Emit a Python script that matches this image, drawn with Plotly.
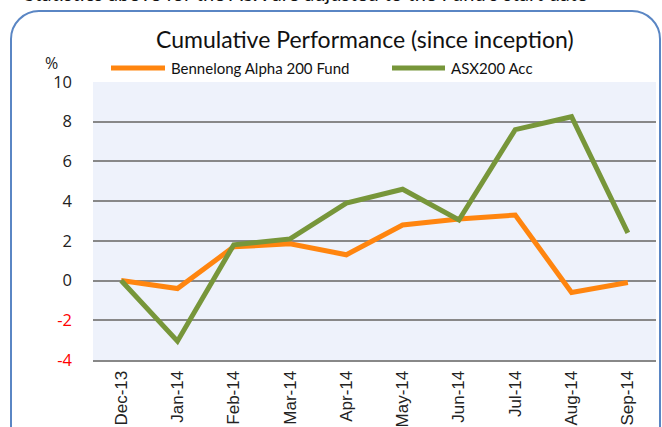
import plotly.graph_objects as go

months = ["Dec-13", "Jan-14", "Feb-14", "Mar-14", "Apr-14", "May-14",
          "Jun-14", "Jul-14", "Aug-14", "Sep-14"]
fund = [0.0, -0.4, 1.7, 1.85, 1.3, 2.8, 3.1, 3.3, -0.6, -0.1]
asx = [0.0, -3.05, 1.8, 2.1, 3.9, 4.6, 3.05, 7.6, 8.25, 2.4]
ytick_vals = [-4, -2, 0, 2, 4, 6, 8, 10]

W, H = 662, 427
L, R, T, B = 93, 6, 82, 67
PW, PH = W - L - R, H - T - B


def px(x):
    return (x - L) / PW


def py(y):
    return (H - B - y) / PH


TXT = "Lato"

fig = go.Figure()
fig.add_trace(go.Scatter(x=months, y=fund, mode="lines", name="Bennelong Alpha 200 Fund",
                         line=dict(color="#ff850f", width=5)))
fig.add_trace(go.Scatter(x=months, y=asx, mode="lines", name="ASX200 Acc",
                         line=dict(color="#77963a", width=5)))

ticktext = [f'<span style="color:#ff0000">{v}</span>' if v < 0 else str(v) for v in ytick_vals]

# rounded border path
x0, y0, x1, y1, r = 11, 11, 660, 440, 28
path = (f"M {px(x0)} {py(y1)} L {px(x0)} {py(y0 + r)} "
        f"C {px(x0)} {py(y0 + r * 0.45)} {px(x0 + r * 0.45)} {py(y0)} {px(x0 + r)} {py(y0)} "
        f"L {px(x1 - r)} {py(y0)} "
        f"C {px(x1 - r * 0.45)} {py(y0)} {px(x1)} {py(y0 + r * 0.45)} {px(x1)} {py(y0 + r)} "
        f"L {px(x1)} {py(y1)}")

fig.update_layout(
    width=W, height=H,
    margin=dict(l=L, r=R, t=T, b=B),
    paper_bgcolor="white",
    plot_bgcolor="#eef2fb",
    showlegend=False,
    font=dict(family="Open Sans", color="#222222"),
    xaxis=dict(type="category", tickangle=-90, showgrid=False, range=[-0.5, 9.5],
               showline=True, linecolor="#888888", linewidth=2, automargin=False,
               ticks="", ticklabelstandoff=2,
               tickfont=dict(size=17, family="Liberation Sans", color="#222222"),
               fixedrange=True),
    yaxis=dict(range=[-4, 10], tickvals=ytick_vals, ticktext=ticktext, automargin=False,
               showgrid=True, gridcolor="#888888", gridwidth=2,
               zeroline=False, ticks="", ticklabelstandoff=20,
               tickfont=dict(size=16.5, family="Open Sans", color="#222222"),
               fixedrange=True),
    shapes=[
        dict(type="path", xref="paper", yref="paper", path=path,
             line=dict(color="#5a86c4", width=2), layer="above"),
        dict(type="line", xref="paper", yref="paper", x0=px(111), x1=px(165),
             y0=py(68), y1=py(68), line=dict(color="#ff850f", width=5)),
        dict(type="line", xref="paper", yref="paper", x0=px(392), x1=px(445),
             y0=py(68), y1=py(68), line=dict(color="#77963a", width=5)),
    ],
    annotations=[
        dict(text="Statistics above for the ASX are adjusted to the Fund's start date",
             xref="paper", yref="paper", x=px(22), y=py(7), xanchor="left", yanchor="bottom",
             showarrow=False, font=dict(size=20, family=TXT, color="#111111")),
        dict(text="Cumulative Performance (since inception)", xref="paper", yref="paper",
             x=px(365), y=py(39), xanchor="center", yanchor="middle", showarrow=False,
             font=dict(size=23, family=TXT, color="#111111")),
        dict(text="Bennelong Alpha 200 Fund", xref="paper", yref="paper",
             x=px(169), y=py(68), xanchor="left", yanchor="middle", showarrow=False,
             font=dict(size=15, family=TXT, color="#111111")),
        dict(text="ASX200 Acc", xref="paper", yref="paper",
             x=px(449), y=py(68), xanchor="left", yanchor="middle", showarrow=False,
             font=dict(size=15, family=TXT, color="#111111")),
        dict(text="%", xref="paper", yref="paper",
             x=px(51), y=py(63), xanchor="center", yanchor="middle", showarrow=False,
             font=dict(size=16, family="Open Sans", color="#222222")),
    ],
)

fig.write_html("out.html", config={"displayModeBar": False},
               post_script="document.body.style.margin='0';")
